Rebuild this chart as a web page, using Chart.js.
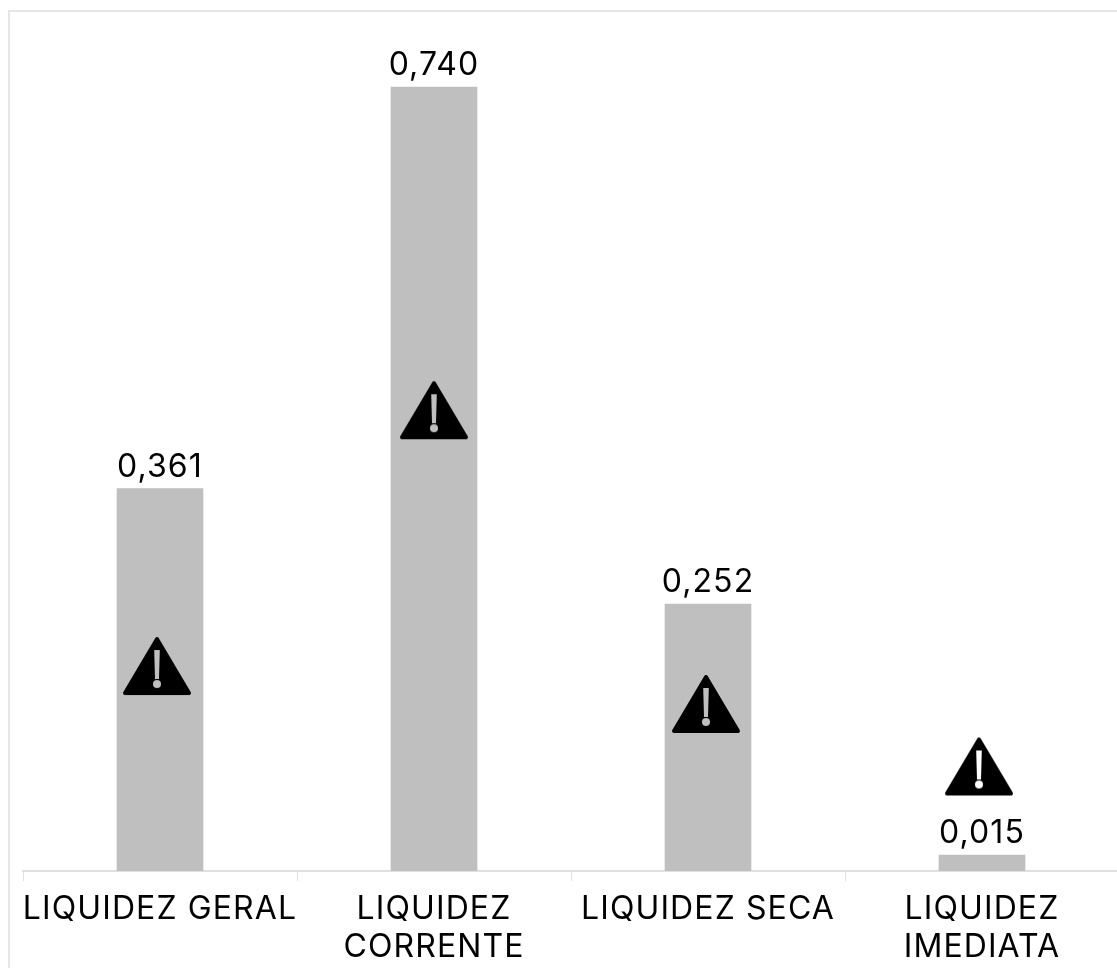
<!DOCTYPE html>
<html>
<head>
<meta charset="utf-8">
<style>
html, body { margin: 0; padding: 0; background: #fff; overflow: hidden; }
#wrap { position: relative; width: 1117px; height: 968px; overflow: hidden; }
#frame { position: absolute; left: 8px; top: 10px; width: 1200px; height: 1100px; border: 2px solid #e6e6e6; }
canvas { position: absolute; left: 0; top: 0; }
</style>
</head>
<body>
<div id="wrap">
  <div id="frame"></div>
  <canvas id="chart" width="1125" height="968"></canvas>
</div>
<script src="https://cdn.jsdelivr.net/npm/chart.js@4"></script>
<script>
let categories = [["LIQUIDEZ GERAL"], ["LIQUIDEZ", "CORRENTE"], ["LIQUIDEZ SECA"], ["LIQUIDEZ", "IMEDIATA"]];
let values = [0.361, 0.740, 0.252, 0.015];
let valueLabels = ["0,361", "0,740", "0,252", "0,015"];
// height of the warning icons, in axis units
let iconLevels = [0.1935, 0.435, 0.1577, 0.0987];

let fontName = "Inter";

// the icons sit a few px off the bar centres, so each one gets its own picture
function makeIcon(nudge) {
    let c = document.createElement("canvas");
    c.width = 80;
    c.height = 60;
    let g = c.getContext("2d");
    g.translate(6 + nudge, 0);
    g.fillStyle = "#000";
    g.strokeStyle = "#000";
    g.lineWidth = 4;
    g.lineJoin = "round";
    g.beginPath();
    g.moveTo(34, 3);
    g.lineTo(66, 57);
    g.lineTo(2, 57);
    g.closePath();
    g.fill();
    g.stroke();
    // the exclamation mark is a hole, the bar shows through it
    g.globalCompositeOperation = "destination-out";
    g.beginPath();
    g.moveTo(31.2, 14);
    g.lineTo(36.8, 14);
    g.lineTo(36, 43);
    g.lineTo(32, 43);
    g.closePath();
    g.fill();
    g.beginPath();
    g.arc(34, 48, 4, 0, Math.PI * 2);
    g.fill();
    return c;
}

let icons = [-3, 0, -2, -3].map(makeIcon);

let textSpacing = {
    id: "textSpacing",
    beforeDraw(chart) {
        chart.ctx.letterSpacing = "1.1px";
    }
};

let barLabels = {
    id: "barLabels",
    afterDatasetsDraw(chart) {
        let ctx = chart.ctx;
        let meta = chart.getDatasetMeta(0);
        ctx.save();
        ctx.font = "32px " + fontName;
        ctx.fillStyle = "#000";
        ctx.textAlign = "center";
        ctx.textBaseline = "alphabetic";
        meta.data.forEach((bar, i) => {
            ctx.fillText(valueLabels[i], bar.x, bar.y - 12);
        });
        ctx.restore();
    }
};

new Chart(document.getElementById("chart"), {
    data: {
        labels: categories,
        datasets: [
            {
                type: "bar",
                data: values,
                backgroundColor: "#bfbfbf",
                barThickness: 86,
                order: 2
            },
            {
                type: "line",
                data: iconLevels,
                showLine: false,
                pointStyle: (c) => icons[c.dataIndex],
                order: 1
            }
        ]
    },
    options: {
        responsive: false,
        animation: false,
        layout: { padding: { left: 23, right: 6, top: 13, bottom: 0 } },
        plugins: { legend: { display: false }, tooltip: { enabled: false } },
        scales: {
            x: {
                afterFit(scale) { scale.height = 97; },
                border: { color: "#e0e0e0", width: 2 },
                grid: {
                    drawOnChartArea: false,
                    color: "#e0e0e0",
                    tickLength: 10,
                    offset: true
                },
                ticks: {
                    color: "#000",
                    maxRotation: 0,
                    autoSkip: false,
                    padding: 9,
                    font: { family: fontName, size: 32, lineHeight: 1.2 }
                }
            },
            y: { display: false, min: 0, max: 0.81 }
        }
    },
    plugins: [textSpacing, barLabels]
});
</script>
</body>
</html>
